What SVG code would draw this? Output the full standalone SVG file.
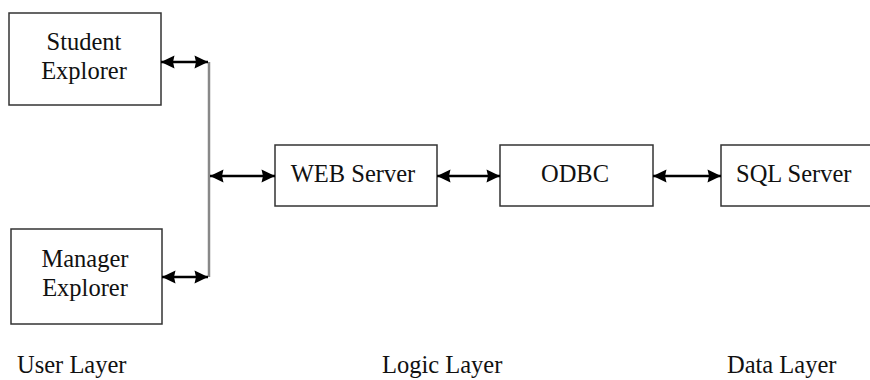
<svg xmlns="http://www.w3.org/2000/svg" width="870" height="380" viewBox="0 0 870 380">
<style>
.box{fill:#fff;stroke:#333;stroke-width:1.5}
.t{font-family:"Liberation Serif","Times New Roman",serif;font-size:24.5px;fill:#111}
.c{text-anchor:middle}
.ar{stroke:#000;stroke-width:2.4;fill:none;marker-start:url(#h);marker-end:url(#h)}
</style>
<defs>
<marker id="h" markerUnits="userSpaceOnUse" viewBox="0 0 14 16" markerWidth="14" markerHeight="16" refX="13.5" refY="8" orient="auto-start-reverse" overflow="visible">
<path d="M0,1.5 L13.5,8 L0,14.5 L1.5,8 Z" fill="#000"/>
</marker>
</defs>
<rect width="870" height="380" fill="#fff"/>
<g id="student"><rect class="box" x="9" y="13" width="152" height="92"/><text class="t c" x="84" y="50">Student</text><text class="t c" x="84" y="79">Explorer</text></g>
<g id="manager"><rect class="box" x="11" y="229" width="151" height="95"/><text class="t c" x="85" y="267">Manager</text><text class="t c" x="85" y="296">Explorer</text></g>
<g id="web"><rect class="box" x="275" y="145" width="162" height="61"/><text class="t c" x="353" y="182">WEB Server</text></g>
<g id="odbc"><rect class="box" x="500" y="145" width="153" height="61"/><text class="t c" x="575" y="182">ODBC</text></g>
<g id="sql"><rect class="box" x="721" y="145" width="160" height="61"/><text class="t" x="736" y="182">SQL Server</text></g>
<g id="connectors">
<line x1="209" y1="62" x2="209" y2="277" stroke="#888" stroke-width="2.5"/>
<line class="ar" x1="161" y1="62" x2="208" y2="62"/>
<line class="ar" x1="162" y1="277" x2="208" y2="277"/>
<line class="ar" x1="210" y1="176" x2="275" y2="176"/>
<line class="ar" x1="437" y1="176" x2="500" y2="176"/>
<line class="ar" x1="653" y1="176" x2="721" y2="176"/>
</g>
<g id="labels">
<text class="t" x="17" y="373">User Layer</text>
<text class="t" x="382" y="373">Logic Layer</text>
<text class="t" x="727" y="373">Data Layer</text>
</g>
</svg>
